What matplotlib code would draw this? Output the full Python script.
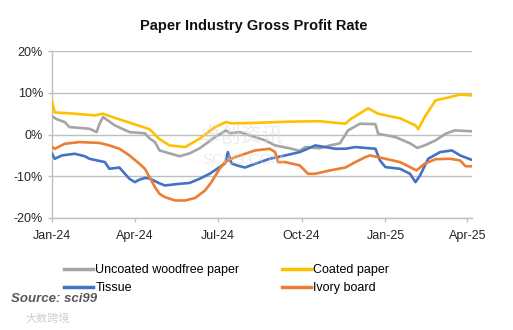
import pandas as pd
import matplotlib as mpl
mpl.use('agg')
import matplotlib.pyplot as plt
import matplotlib.dates as mdates

## data (gross profit rate, %)
coated_dates = ['2024-01-01', '2024-01-04', '2024-01-20', '2024-02-17', '2024-02-26', '2024-03-10',
                '2024-04-17', '2024-04-28', '2024-05-09', '2024-05-26', '2024-06-11', '2024-06-28',
                '2024-07-10', '2024-07-16', '2024-08-11', '2024-09-18', '2024-10-21', '2024-11-18',
                '2024-11-23', '2024-12-13', '2024-12-24', '2025-01-17', '2025-02-03', '2025-02-06',
                '2025-02-13', '2025-02-25', '2025-03-13', '2025-03-24', '2025-04-05']
coated = [8.0, 5.3, 5.1, 4.6, 5.0, 4.0,
          1.3, -1.1, -2.6, -3.0, -1.0, 1.8,
          3.0, 2.7, 2.8, 3.1, 3.2, 2.6,
          3.6, 6.3, 5.0, 3.9, 2.2, 1.3,
          4.2, 8.2, 9.0, 9.6, 9.4]

uncoated_dates = ['2024-01-01', '2024-01-06', '2024-01-15', '2024-01-20', '2024-02-11', '2024-02-19',
                  '2024-02-22', '2024-02-26', '2024-03-10', '2024-03-26', '2024-04-12', '2024-04-17',
                  '2024-04-23', '2024-04-28', '2024-05-20', '2024-05-31', '2024-06-11', '2024-06-28',
                  '2024-07-10', '2024-07-14', '2024-07-25', '2024-08-11', '2024-08-22', '2024-09-02',
                  '2024-09-18', '2024-09-29', '2024-10-05', '2024-10-21', '2024-11-01', '2024-11-12',
                  '2024-11-21', '2024-12-04', '2024-12-21', '2024-12-24', '2025-01-12', '2025-01-28',
                  '2025-02-05', '2025-02-13', '2025-02-25', '2025-03-08', '2025-03-18', '2025-04-05']
uncoated = [4.4, 3.7, 3.0, 1.8, 1.4, 0.6,
            2.5, 4.2, 2.2, 0.6, 0.3, -0.9,
            -1.8, -3.8, -5.2, -4.5, -3.3, -0.6,
            1.0, 0.3, 0.6, -0.6, -1.4, -2.6,
            -3.3, -3.9, -3.0, -3.3, -2.6, -2.1,
            1.0, 2.6, 2.5, 0.2, -0.6, -2.1,
            -3.2, -2.6, -1.4, 0.2, 1.0, 0.8]

tissue_dates = ['2024-01-01', '2024-01-04', '2024-01-12', '2024-01-26', '2024-02-06', '2024-02-11',
                '2024-02-28', '2024-03-04', '2024-03-15', '2024-03-21', '2024-03-26', '2024-04-01',
                '2024-04-06', '2024-04-12', '2024-04-17', '2024-04-28', '2024-05-04', '2024-05-20',
                '2024-05-31', '2024-06-11', '2024-06-22', '2024-07-03', '2024-07-09', '2024-07-12',
                '2024-07-16', '2024-07-22', '2024-07-31', '2024-08-11', '2024-08-27', '2024-09-13',
                '2024-09-29', '2024-10-16', '2024-10-27', '2024-11-07', '2024-11-18', '2024-11-29',
                '2024-12-21', '2024-12-26', '2025-01-01', '2025-01-17', '2025-01-28', '2025-02-03',
                '2025-02-08', '2025-02-17', '2025-03-02', '2025-03-15', '2025-03-24', '2025-04-05']
tissue = [-4.6, -5.8, -5.0, -4.6, -5.2, -5.8,
          -6.6, -8.2, -7.9, -9.4, -10.6, -11.4,
          -10.8, -10.4, -10.5, -11.7, -12.2, -11.8,
          -11.6, -10.6, -9.4, -7.8, -6.9, -4.2,
          -6.9, -7.4, -7.9, -7.0, -5.8, -5.0,
          -4.2, -2.6, -3.0, -3.4, -3.4, -3.0,
          -3.4, -6.2, -7.8, -8.2, -9.4, -11.4,
          -9.8, -5.8, -4.2, -3.8, -5.0, -6.0]

ivory_dates = ['2024-01-01', '2024-01-04', '2024-01-15', '2024-01-31', '2024-02-22', '2024-03-04',
               '2024-03-15', '2024-03-26', '2024-04-06', '2024-04-12', '2024-04-17', '2024-04-23',
               '2024-04-28', '2024-05-04', '2024-05-15', '2024-05-26', '2024-06-06', '2024-06-17',
               '2024-06-24', '2024-07-03', '2024-07-09', '2024-07-20', '2024-07-31', '2024-08-11',
               '2024-08-27', '2024-09-02', '2024-09-05', '2024-09-13', '2024-09-29', '2024-10-08',
               '2024-10-16', '2024-11-01', '2024-11-18', '2024-11-29', '2024-12-10', '2024-12-15',
               '2025-01-01', '2025-01-17', '2025-01-28', '2025-02-04', '2025-02-13', '2025-02-25',
               '2025-03-13', '2025-03-24', '2025-03-30', '2025-04-05']
ivory = [-3.0, -3.4, -2.2, -1.8, -2.0, -2.6,
         -3.4, -5.0, -7.0, -8.2, -10.2, -12.6,
         -14.2, -15.0, -15.8, -15.8, -15.2, -13.4,
         -11.4, -8.2, -6.6, -5.4, -4.6, -3.8,
         -3.4, -4.2, -6.6, -6.6, -7.4, -9.4,
         -9.4, -8.6, -7.9, -6.6, -5.4, -5.0,
         -5.8, -6.6, -7.8, -8.6, -7.0, -5.9,
         -5.8, -6.2, -7.6, -7.6]

series = [
    ('Uncoated woodfree paper', uncoated_dates, uncoated, '#A5A5A5'),
    ('Coated paper', coated_dates, coated, '#FFC000'),
    ('Tissue', tissue_dates, tissue, '#4472C4'),
    ('Ivory board', ivory_dates, ivory, '#ED7D31'),
]

plt.rcParams['font.family'] = ['Liberation Sans', 'DejaVu Sans']

fig = plt.figure(figsize=(5.13, 3.30), dpi=100)
ax = fig.add_axes([0.1014, 0.3394, 0.8186, 0.5056])

lines = {}
for name, d, v, c in series:
    lines[name], = ax.plot(pd.to_datetime(d), v, color=c, linewidth=1.9, label=name, zorder=3)

ax.set_ylim(-20, 20)
ax.set_yticks([-20, -10, 0, 10, 20])
ax.set_yticklabels(['-20%', '-10%', '0%', '10%', '20%'])
ax.set_xlim(pd.Timestamp('2024-01-01'), pd.Timestamp('2025-04-06'))
ticks = pd.to_datetime(['2024-01-01', '2024-04-01', '2024-07-01', '2024-10-01', '2025-01-01', '2025-04-01'])
ax.set_xticks(ticks)
ax.xaxis.set_major_formatter(mdates.DateFormatter('%b-%y'))

ax.grid(axis='y', color='#BFBFBF', linewidth=1.0)
ax.set_axisbelow(True)
for s in ['top', 'right']:
    ax.spines[s].set_visible(False)
for s in ['left', 'bottom']:
    ax.spines[s].set_color('#BFBFBF')
    ax.spines[s].set_linewidth(1.0)
ax.tick_params(axis='both', colors='#BFBFBF', length=3, width=1.0, labelsize=9, labelcolor='#262626')
ax.tick_params(axis='x', pad=6)

fig.text(0.495, 0.921, 'Paper Industry Gross Profit Rate', ha='center', va='center',
         fontsize=10.5, fontweight='bold', color='#111111')

## faint watermark in the plot
fig.text(0.39, 0.585, '卓创资讯', ha='left', va='center', fontsize=15, color='#D9D9D9', alpha=0.5,
         family=['Noto Sans CJK SC'], zorder=5)
fig.text(0.395, 0.515, 'SCI99.COM', ha='left', va='center', fontsize=11, color='#D9D9D9', alpha=0.5, zorder=5)

## legend filled column-wise: left column Uncoated/Tissue, right column Coated/Ivory
order = ['Uncoated woodfree paper', 'Tissue', 'Coated paper', 'Ivory board']
leg = fig.legend([lines[n] for n in order], order, loc='upper left', bbox_to_anchor=(0.115, 0.215),
                 ncol=2, frameon=False, fontsize=9, handlelength=2.3, handletextpad=0.2,
                 columnspacing=3.4, labelspacing=0.5, borderaxespad=0)
for line in leg.get_lines():
    line.set_linewidth(2.5)

fig.text(0.022, 0.094, 'Source: sci99', ha='left', va='center', fontsize=9.5,
         fontweight='bold', style='italic', color='#595959')
fig.text(0.05, 0.035, '大数跨境', ha='left', va='center', fontsize=8, color='#D0D0D0',
         family=['Noto Sans CJK SC'])

fig.savefig('out.png', dpi=100)
